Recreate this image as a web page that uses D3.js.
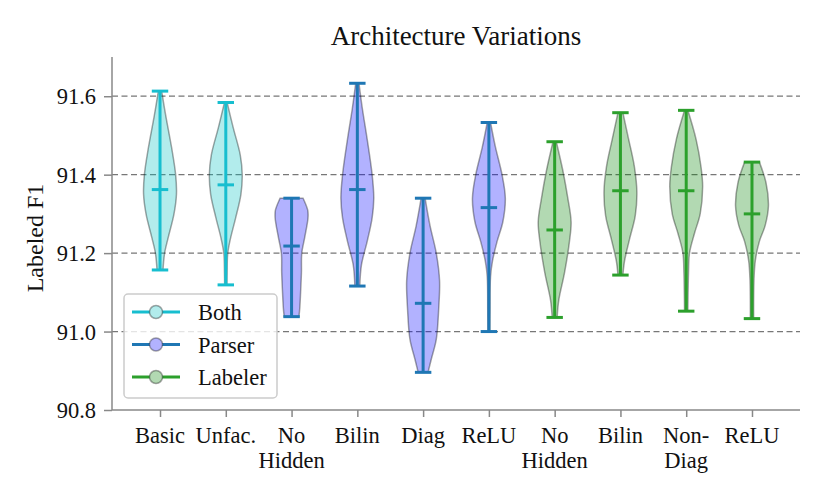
<!DOCTYPE html>
<html>
<head>
<meta charset="utf-8">
<script src="https://cdn.jsdelivr.net/npm/d3@7"></script>
<style>
  body { margin: 0; background: #fff; }
  text { font-family: "Liberation Serif", "DejaVu Serif", serif; }
</style>
</head>
<body>
<div id="chart-area"></div>
<script>
// chart values
const categories = ['Basic', 'Unfac.', 'No\nHidden', 'Bilin', 'Diag', 'ReLU', 'No\nHidden', 'Bilin', 'Non-\nDiag', 'ReLU'];
const groups = ['Both', 'Both', 'Parser', 'Parser', 'Parser', 'Parser', 'Labeler', 'Labeler', 'Labeler', 'Labeler'];
const minVals  = [91.157, 91.119, 91.038, 91.116, 90.896, 91.000, 91.036, 91.144, 91.052, 91.033];
const maxVals  = [91.613, 91.584, 91.340, 91.633, 91.340, 91.533, 91.484, 91.558, 91.564, 91.432];
const meanVals = [91.362, 91.374, 91.218, 91.362, 91.072, 91.316, 91.259, 91.359, 91.359, 91.300];
// violin outline: [value, relative half width] from top to bottom
const shapes = [
  [[91.613,0.10],[91.55,0.35],[91.47,0.70],[91.40,0.95],[91.35,1.00],[91.30,0.85],[91.24,0.50],[91.20,0.28],[91.157,0.18]],
  [[91.584,0.08],[91.52,0.45],[91.45,0.88],[91.40,1.00],[91.35,0.92],[91.29,0.60],[91.24,0.30],[91.20,0.12],[91.15,0.08],[91.119,0.07]],
  [[91.340,0.70],[91.31,0.98],[91.29,1.00],[91.24,0.80],[91.20,0.62],[91.15,0.60],[91.10,0.55],[91.06,0.50],[91.038,0.45]],
  [[91.633,0.10],[91.57,0.30],[91.49,0.60],[91.40,0.90],[91.34,1.00],[91.29,0.90],[91.23,0.60],[91.17,0.25],[91.116,0.15]],
  [[91.340,0.12],[91.27,0.42],[91.20,0.80],[91.13,1.00],[91.06,0.95],[90.98,0.80],[90.93,0.50],[90.896,0.30]],
  [[91.533,0.10],[91.47,0.40],[91.40,0.80],[91.34,1.00],[91.28,0.85],[91.23,0.50],[91.18,0.22],[91.14,0.10],[91.05,0.07],[91.000,0.06]],
  [[91.484,0.10],[91.41,0.50],[91.34,0.80],[91.28,1.00],[91.23,0.90],[91.15,0.60],[91.08,0.25],[91.036,0.15]],
  [[91.558,0.15],[91.49,0.50],[91.42,0.85],[91.355,1.00],[91.295,0.90],[91.235,0.55],[91.18,0.25],[91.144,0.15]],
  [[91.564,0.10],[91.49,0.60],[91.42,0.90],[91.37,1.00],[91.30,0.85],[91.25,0.50],[91.20,0.20],[91.15,0.14],[91.052,0.10]],
  [[91.432,0.45],[91.38,0.85],[91.32,1.00],[91.27,0.80],[91.23,0.45],[91.18,0.20],[91.13,0.12],[91.033,0.10]]
];
const yTicks = [90.8, 91.0, 91.2, 91.4, 91.6];
const gridTicks = [91.0, 91.2, 91.4, 91.6];
const legendNames = ['Both', 'Parser', 'Labeler'];

const LINE_COLOR = { Both: '#17becf', Parser: '#1f77b4', Labeler: '#2ca02c' };
const FILL_COLOR = { Both: '#00bfbf', Parser: '#0000ff', Labeler: '#008000' };

const W = 830, H = 498;
const MARGIN = { LEFT: 112, RIGHT: 30, TOP: 57, BOTTOM: 88 };
const WIDTH = W - MARGIN.LEFT - MARGIN.RIGHT;
const HEIGHT = H - MARGIN.TOP - MARGIN.BOTTOM;
const FONT = 22.5;

const svg = d3.select('#chart-area')
  .append('svg')
  .attr('width', W)
  .attr('height', H);

const g = svg.append('g')
  .attr('transform', `translate(${MARGIN.LEFT},${MARGIN.TOP})`);

const x = d3.scaleLinear()
  .domain([1 - 0.73, categories.length + 0.73])
  .range([0, WIDTH]);

const y = d3.scaleLinear()
  .domain([90.8, 91.7])
  .range([HEIGHT, 0]);

// dashed grid
g.append('g')
  .selectAll('line')
  .data(gridTicks)
  .enter().append('line')
  .attr('x1', 0)
  .attr('x2', WIDTH)
  .attr('y1', d => y(d))
  .attr('y2', d => y(d))
  .attr('stroke', '#777')
  .attr('stroke-width', 1.3)
  .attr('stroke-dasharray', '6,3.5');

// violins
const halfW = 0.25;
const capW = 0.125;

categories.forEach((c, i) => {
  const pos = i + 1;
  const grp = groups[i];
  const violin = d3.area()
    .y(d => y(d[0]))
    .x0(d => x(pos - halfW * d[1]))
    .x1(d => x(pos + halfW * d[1]))
    .curve(d3.curveCatmullRom);

  g.append('path')
    .datum(shapes[i])
    .attr('d', violin)
    .attr('fill', FILL_COLOR[grp])
    .attr('fill-opacity', 0.3)
    .attr('stroke', '#000')
    .attr('stroke-opacity', 0.35)
    .attr('stroke-width', 1.5);

  const col = LINE_COLOR[grp];
  // vertical bar
  g.append('line')
    .attr('x1', x(pos)).attr('x2', x(pos))
    .attr('y1', y(maxVals[i])).attr('y2', y(minVals[i]))
    .attr('stroke', col).attr('stroke-width', 3);
  // caps and mean
  [maxVals[i], minVals[i], meanVals[i]].forEach(v => {
    g.append('line')
      .attr('x1', x(pos - capW)).attr('x2', x(pos + capW))
      .attr('y1', y(v)).attr('y2', y(v))
      .attr('stroke', col).attr('stroke-width', 3);
  });
});

// axes
const xAxisCall = d3.axisBottom(x)
  .tickValues(d3.range(1, categories.length + 1))
  .tickSize(7)
  .tickFormat('');

const xAxisGroup = g.append('g')
  .attr('class', 'x axis')
  .attr('transform', `translate(0,${HEIGHT})`)
  .call(xAxisCall);

xAxisGroup.select('.domain').attr('d', `M0,0H${WIDTH}`);

const yAxisCall = d3.axisLeft(y)
  .tickValues(yTicks)
  .tickSize(8)
  .tickFormat(d3.format('.1f'));

const yAxisGroup = g.append('g')
  .attr('class', 'y axis')
  .call(yAxisCall);

yAxisGroup.select('.domain').attr('d', `M0,0V${HEIGHT}`);

svg.selectAll('.axis .domain, .axis line')
  .attr('stroke', '#888')
  .attr('stroke-width', 1.5);

yAxisGroup.selectAll('text')
  .attr('font-size', FONT)
  .attr('fill', '#111')
  .attr('x', -16)
  .attr('dy', '0.34em')
  .attr('font-family', '"Liberation Serif", serif');

// x labels, split on newline
categories.forEach((c, i) => {
  const t = g.append('text')
    .attr('x', x(i + 1))
    .attr('y', HEIGHT + 33)
    .attr('text-anchor', 'middle')
    .attr('font-size', FONT)
    .attr('fill', '#111');
  c.split('\n').forEach((line, k) => {
    t.append('tspan')
      .attr('x', x(i + 1))
      .attr('dy', k === 0 ? 0 : 25)
      .text(line);
  });
});

// y label
svg.append('text')
  .attr('transform', 'rotate(-90)')
  .attr('x', -238)
  .attr('y', 43)
  .attr('text-anchor', 'middle')
  .attr('font-size', 24)
  .attr('fill', '#111')
  .text('Labeled F1');

// title
svg.append('text')
  .attr('x', MARGIN.LEFT + WIDTH / 2)
  .attr('y', 45)
  .attr('text-anchor', 'middle')
  .attr('font-size', 27)
  .attr('fill', '#111')
  .text('Architecture Variations');

// legend
const legend = svg.append('g')
  .attr('transform', 'translate(124,294)');

legend.append('rect')
  .attr('width', 153)
  .attr('height', 104)
  .attr('rx', 4)
  .attr('fill', '#fff')
  .attr('fill-opacity', 0.8)
  .attr('stroke', '#ccc')
  .attr('stroke-width', 1.5);

legendNames.forEach((name, k) => {
  const row = legend.append('g')
    .attr('transform', `translate(0,${18 + k * 32.5})`);
  row.append('line')
    .attr('x1', 8).attr('x2', 56)
    .attr('stroke', LINE_COLOR[name]).attr('stroke-width', 3);
  row.append('circle')
    .attr('cx', 32).attr('r', 6.5)
    .attr('fill', '#fff');
  row.append('circle')
    .attr('cx', 32).attr('r', 6.5)
    .attr('fill', FILL_COLOR[name])
    .attr('fill-opacity', 0.3)
    .attr('stroke', '#000')
    .attr('stroke-opacity', 0.35)
    .attr('stroke-width', 1.5);
  row.append('text')
    .attr('x', 74)
    .attr('y', 8)
    .attr('font-size', FONT)
    .attr('fill', '#111')
    .text(name);
});
</script>
</body>
</html>
